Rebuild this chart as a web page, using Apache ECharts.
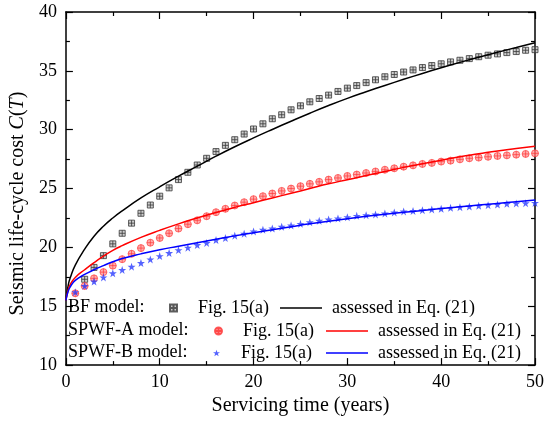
<!DOCTYPE html>
<html>
<head>
<meta charset="utf-8">
<script src="https://cdn.jsdelivr.net/npm/echarts@6/dist/echarts.min.js"></script>
<style>
  html, body { margin: 0; padding: 0; background: #fff; }
  #container { width: 550px; height: 421px; }
</style>
</head>
<body>
<div id="container"></div>
<script>
// years of the Fig. 15(a) points
const figYears = [1, 2, 3, 4, 5, 6, 7, 8, 9, 10, 11, 12, 13, 14, 15, 16, 17, 18, 19, 20,
    21, 22, 23, 24, 25, 26, 27, 28, 29, 30, 31, 32, 33, 34, 35, 36, 37, 38, 39, 40,
    41, 42, 43, 44, 45, 46, 47, 48, 49, 50]

// BF model, Fig. 15(a) (no visible point at year 1)
const bfFig = [null, 17.29, 18.3, 19.3, 20.3, 21.2, 22.06, 22.9, 23.6, 24.35,
    25.06, 25.76, 26.38, 27.0, 27.57, 28.14, 28.67, 29.15, 29.63, 30.06,
    30.5, 30.93, 31.27, 31.69, 32.03, 32.37, 32.65, 32.94, 33.25, 33.53,
    33.75, 34.0, 34.24, 34.5, 34.69, 34.9, 35.08, 35.28, 35.45, 35.6,
    35.76, 35.9, 36.04, 36.2, 36.33, 36.44, 36.55, 36.64, 36.75, 36.8]

// SPWF-A model, Fig. 15(a)
const spwfAFig = [16.1, 16.72, 17.37, 17.9, 18.45, 19.0, 19.46, 19.94, 20.4, 20.8,
    21.2, 21.6, 21.97, 22.3, 22.65, 22.99, 23.28, 23.56, 23.84, 24.1,
    24.35, 24.58, 24.8, 25.0, 25.2, 25.4, 25.57, 25.76, 25.9, 26.07,
    26.19, 26.32, 26.45, 26.6, 26.72, 26.86, 26.97, 27.09, 27.18, 27.29,
    27.37, 27.48, 27.57, 27.63, 27.7, 27.77, 27.82, 27.88, 27.94, 27.99]

// SPWF-B model, Fig. 15(a)
const spwfBFig = [16.2, 16.72, 17.1, 17.45, 17.8, 18.08, 18.36, 18.67, 18.98, 19.26,
    19.52, 19.77, 19.98, 20.2, 20.38, 20.62, 20.79, 20.99, 21.16, 21.36,
    21.5, 21.6, 21.75, 21.86, 22.0, 22.14, 22.26, 22.37, 22.46, 22.57,
    22.68, 22.74, 22.8, 22.88, 22.97, 23.05, 23.1, 23.16, 23.22, 23.28,
    23.36, 23.42, 23.47, 23.53, 23.58, 23.64, 23.7, 23.73, 23.75, 23.78]

// curves assessed in Eq. (21)
const eqYears = [0, 0.25, 0.5, 1, 2, 3, 4, 5, 6, 8, 10, 12, 14, 16, 18, 20,
    22, 24, 26, 28, 30, 32, 34, 36, 38, 40, 42, 44, 46, 48, 50]
const bfEq = [15.5, 16.8, 17.5, 18.5, 19.85, 20.95, 21.8, 22.5, 23.1, 24.2, 25.15,
    26.05, 26.9, 27.75, 28.55, 29.3, 30.02, 30.72, 31.4, 32.05, 32.66, 33.22,
    33.76, 34.28, 34.78, 35.26, 35.72, 36.16, 36.58, 36.98, 37.38]
const spwfAEq = [15.5, 16.4, 16.9, 17.45, 18.1, 18.7, 19.25, 19.75, 20.15, 20.85, 21.45,
    22.0, 22.5, 22.97, 23.4, 23.8, 24.2, 24.6, 25.0, 25.4, 25.75, 26.1,
    26.45, 26.8, 27.1, 27.4, 27.7, 27.95, 28.2, 28.4, 28.6]
const spwfBEq = [15.5, 16.3, 16.7, 17.2, 17.7, 18.1, 18.45, 18.78, 19.05, 19.45, 19.8,
    20.1, 20.4, 20.7, 20.98, 21.25, 21.5, 21.75, 22.0, 22.22, 22.44, 22.64,
    22.82, 22.98, 23.14, 23.3, 23.45, 23.6, 23.74, 23.88, 24.02]

const FONT = '"Liberation Serif", "Times New Roman", serif'

const pairs = (xs, ys) => xs.map((x, i) => [x, ys[i] == null ? '-' : ys[i]])

const squareCross = 'path://M0,0H10V10H0ZM5,0V10M0,5H10'
const circleCross = 'path://M0,5A5,5 0 1,1 10,5A5,5 0 1,1 0,5ZM5,0V10M0,5H10'
const star = 'path://M5,0L6.18,3.45L9.76,3.45L6.86,5.6L7.94,9.05L5,6.9L2.06,9.05L3.14,5.6L0.24,3.45L3.82,3.45Z'

const axisCommon = {
    axisLine: { onZero: false, lineStyle: { color: '#000', width: 1.5 } },
    axisTick: { inside: true, length: 7, lineStyle: { color: '#000', width: 1.2 } },
    minorTick: { show: true, splitNumber: 2, length: 4, lineStyle: { color: '#000', width: 1.2 } },
    splitLine: { show: false },
    minorSplitLine: { show: false },
}

const legendRow = (name, left, top) => ({
    data: [name],
    left: left,
    top: top,
    padding: 0,
    itemWidth: 7,
    itemHeight: 7,
    selectedMode: false,
    formatter: () => 'Fig. 15(a)',
    textStyle: { fontFamily: FONT, fontSize: 18, color: '#000', padding: [0, 0, 0, 16] },
})

const lineLegend = (name, left, top) => ({
    data: [{ name: name, icon: 'rect' }],
    left: left,
    top: top,
    padding: 0,
    itemWidth: 42,
    itemHeight: 1.6,
    selectedMode: false,
    formatter: () => 'assessed in Eq. (21)',
    textStyle: { fontFamily: FONT, fontSize: 18, color: '#000', padding: [0, 0, 0, 5] },
})

const modelLabel = (text, top) => ({
    type: 'text',
    left: 68,
    top: top,
    style: { text: text, fontFamily: FONT, fontSize: 18, fill: '#000' },
})

const chart = echarts.init(document.getElementById('container'))

chart.setOption({
    animation: false,
    textStyle: { fontFamily: FONT },
    grid: { left: 55, top: 12, right: 15, bottom: 55 },
    xAxis: [{
        ...axisCommon,
        type: 'value',
        min: 0, max: 50, interval: 10,
        name: 'Servicing time (years)',
        nameLocation: 'middle',
        nameGap: 18,
        nameTextStyle: { fontFamily: FONT, fontSize: 20, color: '#000' },
        axisLabel: { fontFamily: FONT, fontSize: 18, color: '#000', margin: 8 },
    }, {
        ...axisCommon,
        type: 'value',
        position: 'top',
        min: 0, max: 50, interval: 10,
        axisLabel: { show: false },
    }],
    yAxis: [{
        ...axisCommon,
        type: 'value',
        min: 10, max: 40, interval: 5,
        name: '{n|Seismic life-cycle cost }{i|C}{n|(}{i|T}{n|)}',
        nameLocation: 'middle',
        nameGap: 34,
        nameTextStyle: {
            padding: [0, 30, 0, 0],
            rich: {
                n: { fontFamily: FONT, fontSize: 20, color: '#000' },
                i: { fontFamily: FONT, fontSize: 20, color: '#000', fontStyle: 'italic' },
            }
        },
        axisLabel: { fontFamily: FONT, fontSize: 18, color: '#000', margin: 9 },
    }, {
        ...axisCommon,
        type: 'value',
        position: 'right',
        min: 10, max: 40, interval: 5,
        axisLabel: { show: false },
    }],
    legend: [
        legendRow('BF Fig', 169, 299),
        lineLegend('BF Eq', 280, 299),
        legendRow('SPWF-A Fig', 214, 322),
        lineLegend('SPWF-A Eq', 326, 322),
        legendRow('SPWF-B Fig', 213, 344),
        lineLegend('SPWF-B Eq', 326, 344),
    ],
    graphic: [
        modelLabel('BF model:', 298),
        modelLabel('SPWF-A model:', 321),
        modelLabel('SPWF-B model:', 343),
    ],
    series: [{
        name: 'BF Fig',
        type: 'scatter',
        symbol: squareCross,
        symbolSize: 6,
        itemStyle: { color: 'rgba(150,150,150,0.6)', borderColor: '#3a3a3a', borderWidth: 1 },
        data: pairs(figYears, bfFig),
    }, {
        name: 'SPWF-A Fig',
        type: 'scatter',
        symbol: circleCross,
        symbolSize: 7,
        itemStyle: { color: '#ff9a9a', borderColor: '#ff3030', borderWidth: 0.8 },
        data: pairs(figYears, spwfAFig),
    }, {
        name: 'SPWF-B Fig',
        type: 'scatter',
        symbol: star,
        symbolSize: 8,
        itemStyle: { color: '#2a3cff' },
        data: pairs(figYears, spwfBFig),
    }, {
        name: 'BF Eq',
        type: 'line',
        smooth: 0.5,
        symbol: 'none',
        lineStyle: { color: '#000', width: 1.5 },
        itemStyle: { color: '#000' },
        data: pairs(eqYears, bfEq),
    }, {
        name: 'SPWF-A Eq',
        type: 'line',
        smooth: 0.5,
        symbol: 'none',
        lineStyle: { color: '#ff0000', width: 1.5 },
        itemStyle: { color: '#ff0000' },
        data: pairs(eqYears, spwfAEq),
    }, {
        name: 'SPWF-B Eq',
        type: 'line',
        smooth: 0.5,
        symbol: 'none',
        lineStyle: { color: '#0000ff', width: 1.5 },
        itemStyle: { color: '#0000ff' },
        data: pairs(eqYears, spwfBEq),
    }],
})

window.onresize = function () {
    chart.resize()
}
</script>
</body>
</html>
